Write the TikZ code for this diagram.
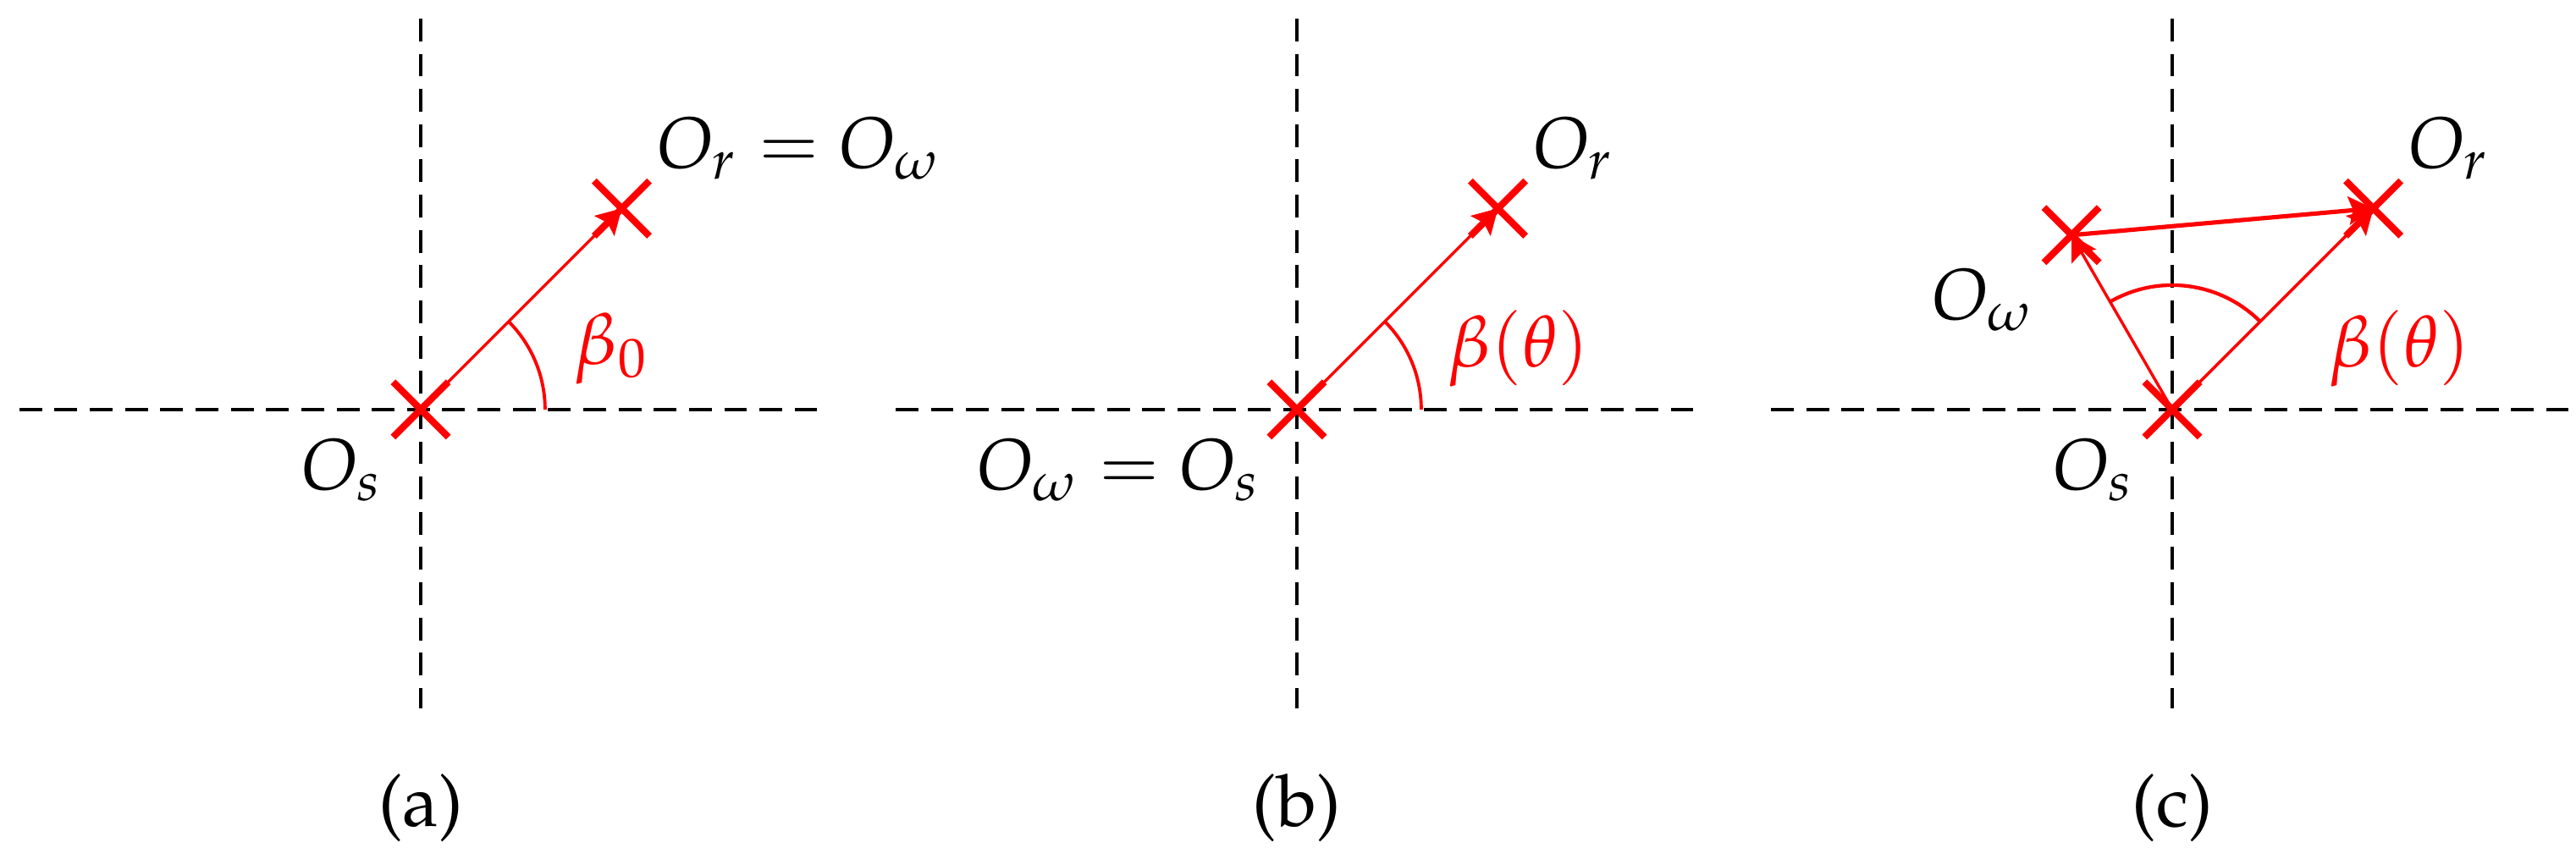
\documentclass[tikz,border=0pt]{standalone}
\usepackage[T1]{fontenc}
\usepackage{mathpazo}
\usepackage{xcolor}
\usetikzlibrary{arrows.meta,shapes.misc,positioning}
\tikzstyle{axis} = [line width=0.5pt,dash pattern=on 3.15pt off 1.72pt]
\tikzstyle{pt} = [cross out,draw=red,line width=0.95pt,minimum size=0.235cm,inner sep=0pt]
\tikzstyle{vec} = [red,->,>={Stealth[length=3.4pt,width=3.9pt,inset=0.6pt]}]
\tikzstyle{lbl} = [inner sep=0pt]

\begin{document}
\begin{tikzpicture}[node distance=0.04cm]
      \useasboundingbox (-2.043,-2.130) rectangle (10.467,1.989);
      % (a)
      \draw [axis] (-1.949,0) -- (1.924,0);
      \draw [axis] (0,1.899) -- (0,-1.451);
      \node (sa) [pt] at (0,0) {};
      \node (ra) [pt] at (45:1.381) {};
      \draw [vec] (sa.center) -- (ra.center);
      \draw [red,line width=0.45pt] (0.604,0) arc (0:45:0.604);
      \node (la) [lbl,red,anchor=west] at (0.74,0.296) {$\beta_0$};
      \node (lsa) [lbl,below left=0cm and 0.04cm of sa] {$O_s$};
      \node (lra) [lbl,above right=0cm and 0.03cm of ra] {$O_r = O_\omega$};
      \node (capa) at (0,-1.936) {(a)};
      % (b)
      \begin{scope}[xshift=4.255cm]
      \draw [axis] (-1.949,0) -- (1.924,0);
      \draw [axis] (0,1.899) -- (0,-1.451);
      \node (sb) [pt] at (0,0) {};
      \node (rb) [pt] at (45:1.381) {};
      \draw [vec] (sb.center) -- (rb.center);
      \draw [red,line width=0.45pt] (0.604,0) arc (0:45:0.604);
      \node (lb) [lbl,red,anchor=west] at (0.728,0.296) {$\beta(\theta)$};
      \node (lsb) [lbl,below left=0cm and 0.03cm of sb] {$O_\omega = O_s$};
      \node (lrb) [lbl,above right=0cm and 0.03cm of rb] {$O_r$};
      \node (capb) at (0,-1.936) {(b)};
      \end{scope}
      % (c)
      \begin{scope}[xshift=8.506cm]
      \draw [axis] (-1.949,0) -- (1.924,0);
      \draw [axis] (0,1.899) -- (0,-1.451);
      \node (sc) [pt] at (0,0) {};
      \node (rc) [pt] at (45:1.381) {};
      \node (wc) [pt] at (120:0.978) {};
      \draw [vec] (sc.center) -- (rc.center);
      \draw [vec] (sc.center) -- (wc.center);
      \draw [vec,line width=0.6pt] (wc.center) -- (rc.center);
      \draw [red,line width=0.5pt] (120:0.604) arc (120:45:0.604);
      \node (lc) [lbl,red,anchor=west] at (0.756,0.296) {$\beta(\theta)$};
      \node (lsc) [lbl,below left=0cm and 0.04cm of sc] {$O_s$};
      \node (lrc) [lbl,above right=0cm and 0.03cm of rc] {$O_r$};
      \node (lwc) [lbl,below left=0.02cm and 0.04cm of wc] {$O_\omega$};
      \node (capc) at (0,-1.936) {(c)};
      \end{scope}
    \end{tikzpicture}
\end{document}
